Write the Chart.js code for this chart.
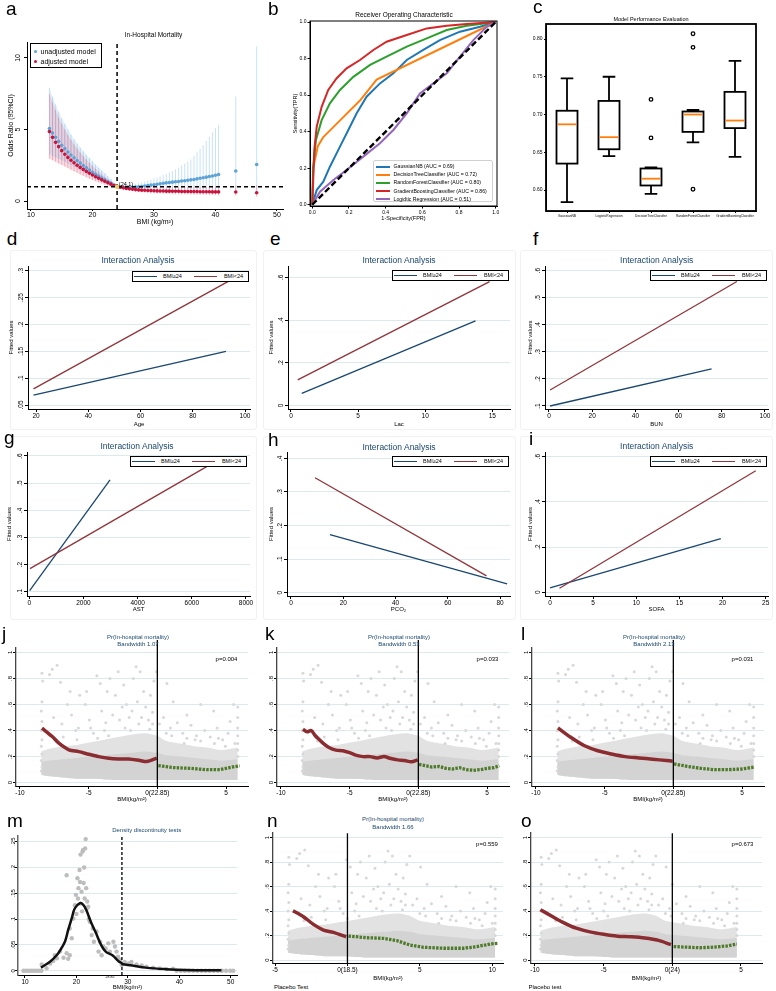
<!DOCTYPE html>
<html>
<head>
<meta charset="utf-8">
<title>BMI and in-hospital mortality</title>
<script src="https://cdn.jsdelivr.net/npm/chart.js@4.4.1/dist/chart.umd.min.js"></script>
<style>
  body { margin: 0; width: 776px; height: 991px; position: relative; overflow: hidden; background: #fff;
         font-family: Arial, "Liberation Sans", Helvetica, sans-serif; color: #000; }
  canvas { position: absolute; }
  .tx { position: absolute; white-space: nowrap; line-height: 1; transform: translate(-50%, -50%); }
  .let { position: absolute; font-size: 19px; line-height: 1; }
  .lg { position: absolute; box-sizing: border-box; border: 1px solid #000; background: #fff; display: flex;
        align-items: center; white-space: nowrap; line-height: 1; }
  .lg i, .rows i { display: inline-block; }
  .rows { position: absolute; box-sizing: border-box; border: 1px solid #d0d0d0; border-radius: 2px;
          background: rgba(255,255,255,0.85); line-height: 1; }
  .rows div { display: flex; align-items: center; white-space: nowrap; }
  .pane { position: absolute; box-sizing: border-box; border: 1px solid #f1f1f1; border-radius: 3px; }
</style>
</head>
<body>
<script>
const SANS = 'Arial, "Liberation Sans", Helvetica, sans-serif';
const NAVY = '#1a476f', MAROON = '#90353b';
const RD_RED = '#8b2c30', RD_GREEN = '#4e7b2a';
const GRID = '#dce9ed';

Chart.defaults.font.family = SANS;
Chart.defaults.color = '#000';
Chart.defaults.animation = false;
Chart.defaults.plugins.legend.display = false;
Chart.defaults.plugins.tooltip.enabled = false;

// ---- a: odds ratio by BMI ----
const aBmi = [13,13.5,14,14.5,15,15.5,16,16.5,17,17.5,18,18.5,19,19.5,20,20.5,21,21.5,22,22.5,23,23.5,24,
  24.5,25,25.5,26,26.5,27,27.5,28,28.5,29,29.5,30,30.5,31,31.5,32,32.5,33,33.5,34,34.5,35,35.5,36,36.5,
  37,37.5,38,38.5,39,39.5,40,40.5,43.3,46.7];
const aUnadj = [5.07,4.75,4.45,4.17,3.9,3.66,3.43,3.22,3.02,2.83,2.65,2.48,2.32,2.16,2.01,1.87,1.74,1.61,1.49,1.37,1.25,1.12,1.0,
  0.98,0.96,0.95,0.95,0.96,0.98,1.0,1.02,1.05,1.08,1.11,1.14,1.17,1.21,1.24,1.27,1.3,1.32,1.35,1.37,1.4,1.42,1.45,1.48,1.51,
  1.55,1.59,1.63,1.67,1.71,1.75,1.8,1.85,2.1,2.55];
const aUnadjLo = [3.25,3.15,3.05,2.95,2.85,2.74,2.63,2.52,2.41,2.3,2.19,2.08,1.97,1.86,1.75,1.64,1.53,1.42,1.32,1.22,1.13,1.06,1.0,
  0.93,0.87,0.82,0.79,0.77,0.76,0.76,0.76,0.76,0.77,0.77,0.78,0.78,0.79,0.79,0.8,0.8,0.8,0.81,0.81,0.81,0.81,0.81,0.81,0.81,
  0.81,0.8,0.8,0.8,0.79,0.79,0.78,0.78,0.72,0.68];
const aUnadjHi = [7.9,7.3,6.75,6.25,5.8,5.4,5.0,4.65,4.32,4.02,3.74,3.48,3.23,3.0,2.77,2.55,2.34,2.14,1.94,1.74,1.54,1.28,1.0,
  1.03,1.06,1.09,1.12,1.16,1.2,1.25,1.3,1.36,1.42,1.49,1.56,1.64,1.72,1.81,1.9,2.0,2.1,2.21,2.32,2.5,2.62,2.76,2.9,3.15,
  3.4,3.65,3.9,4.2,4.5,4.8,5.1,5.3,7.3,10.8];
const aAdj = [4.85,4.45,4.1,3.8,3.52,3.27,3.05,2.85,2.67,2.5,2.35,2.21,2.07,1.94,1.82,1.7,1.59,1.48,1.38,1.28,1.18,1.09,1.0,
  0.96,0.92,0.88,0.85,0.82,0.8,0.78,0.76,0.75,0.74,0.73,0.72,0.71,0.7,0.7,0.69,0.69,0.68,0.68,0.68,0.67,0.67,0.67,0.66,0.66,
  0.66,0.65,0.65,0.65,0.65,0.64,0.64,0.64,0.63,0.58];
const aAdjLo = [2.95,2.85,2.74,2.63,2.52,2.41,2.3,2.19,2.08,1.97,1.86,1.76,1.66,1.56,1.47,1.38,1.3,1.22,1.15,1.09,1.04,1.01,1.0,
  0.92,0.86,0.8,0.75,0.7,0.66,0.63,0.6,0.58,0.56,0.54,0.53,0.52,0.51,0.5,0.49,0.48,0.47,0.46,0.46,0.45,0.45,0.44,0.44,0.43,
  0.43,0.42,0.42,0.41,0.41,0.4,0.4,0.39,0.36,0.3];
const aAdjHi = [7.5,6.9,6.35,5.85,5.4,5.0,4.62,4.28,3.96,3.67,3.4,3.15,2.91,2.68,2.47,2.26,2.06,1.87,1.69,1.52,1.35,1.18,1.0,
  0.99,0.98,0.97,0.96,0.95,0.95,0.95,0.95,0.95,0.95,0.95,0.95,0.96,0.96,0.96,0.97,0.97,0.97,0.98,0.98,0.98,0.99,0.99,0.99,1.0,
  1.0,1.0,1.01,1.01,1.01,1.02,1.02,1.02,1.08,1.12];
const aKnot = [24, 1];

// ---- b: ROC curves ----
const rocTicks = [0, 0.2, 0.4, 0.6, 0.8, 1.0];
const rocTickLabs = ['0.0', '0.2', '0.4', '0.6', '0.8', '1.0'];
const gnbX = [0,0.024,0.06,0.096,0.142,0.187,0.242,0.296,0.369,0.442,0.515,0.605,0.696,0.805,0.915,1];
const gnbY = [0,0.08,0.126,0.208,0.3,0.39,0.5,0.591,0.664,0.719,0.792,0.847,0.901,0.947,0.974,1];
const dtX = [0,0.005,0.03,0.06,0.15,0.26,0.351,1];
const dtY = [0,0.2,0.32,0.37,0.46,0.57,0.685,1];
const rfX = [0,0.005,0.02,0.051,0.096,0.151,0.224,0.315,0.405,0.515,0.624,0.733,0.842,1];
const rfY = [0,0.208,0.354,0.463,0.555,0.628,0.7,0.765,0.81,0.865,0.91,0.956,0.98,1];
const gbX = [0,0.011,0.024,0.051,0.087,0.133,0.187,0.26,0.333,0.405,0.515,0.624,0.733,0.842,1];
const gbY = [0,0.3,0.427,0.536,0.628,0.692,0.746,0.792,0.847,0.892,0.929,0.965,0.98,0.989,1];
const lrX = [0,0.042,0.115,0.187,0.278,0.369,0.442,0.515,0.587,0.66,0.733,0.805,0.878,0.951,1];
const lrY = [0,0.071,0.135,0.19,0.263,0.336,0.409,0.5,0.609,0.664,0.719,0.81,0.901,0.974,1];
const rocNames = ['GaussianNB (AUC = 0.69)', 'DecisionTreeClassifier (AUC = 0.72)', 'RandomForestClassifier (AUC = 0.80)',
  'GradientBoostingClassifier (AUC = 0.86)', 'Logidtic Regression (AUC = 0.51)'];
const rocColors = ['#1f77b4', '#ff7f0e', '#2ca02c', '#d62728', '#9467bd'];

// ---- c: box plots ----
const cNames = ['GaussianNB', 'LogisticRegression', 'DecisionTreeClassifier', 'RandomForestClassifier', 'GradientBoostingClassifier'];
const cLo  = [0.584, 0.645, 0.595, 0.663, 0.644];
const cQ1  = [0.635, 0.654, 0.606, 0.677, 0.682];
const cMed = [0.687, 0.670, 0.615, 0.700, 0.692];
const cQ3  = [0.705, 0.718, 0.6285, 0.704, 0.730];
const cHi  = [0.748, 0.750, 0.630, 0.706, 0.771];
const cOutX = [2, 2, 3, 3, 3];
const cOutY = [0.72, 0.669, 0.807, 0.789, 0.601];

// ---- d-i: interaction fitted lines ----
const dBlueX = [19, 92.7],   dBlueY = [0.0685, 0.150];
const dRedX  = [19, 94.3],   dRedY  = [0.080, 0.282];
const eBlueX = [0.8, 13.75], eBlueY = [0.057, 0.396];
const eRedX  = [0.5, 14.8],  eRedY  = [0.12, 0.58];
const fBlueX = [0.5, 75.3],  fBlueY = [0.1, 0.237];
const fRedX  = [0.5, 87],    fRedY  = [0.159, 0.56];
const gBlueX = [13, 2980],   gBlueY = [0.104, 0.512];
const gRedX  = [25, 6550],   gRedY  = [0.185, 0.561];
const hBlueX = [14.9, 82.7], hBlueY = [0.173, 0.026];
const hRedX  = [9.2, 74.8],  hRedY  = [0.342, 0.050];
const iBlueX = [0, 19.8],    iBlueY = [0.02, 0.237];
const iRedX  = [1.1, 23.85], iRedY  = [0.018, 0.538];

// ---- j-o: regression discontinuity ----
const rdCloudX  = [14.4,15,16,17,18,19,20,21,22,22.85,23.5,24.5,25.5,26.5,27.5,28.7];
const rdCloudLo = [0.06,0.05,0.04,0.03,0.03,0.025,0.02,0.02,0.02,0.02,0.02,0.02,0.02,0.02,0.02,0.02];
const rdCloudHi = [0.24,0.26,0.28,0.29,0.31,0.33,0.35,0.37,0.38,0.36,0.32,0.3,0.28,0.27,0.25,0.27];
const rdCoreHi  = [0.16,0.17,0.18,0.19,0.2,0.21,0.22,0.23,0.24,0.23,0.21,0.2,0.19,0.18,0.17,0.18];
const rdDots = [
  [14.45,0.84],[14.5,0.78],[14.45,0.62],[14.4,0.55],[14.45,0.47],[14.4,0.4],[14.45,0.33],
  [15.0,0.83],[15.2,0.87],[15.55,0.9],[15.8,0.77],[16.5,0.7],[16.3,0.6],[17.2,0.67],[17.7,0.7],
  [17.6,0.6],[18.45,0.82],[18.7,0.76],[19.2,0.7],[19.4,0.8],[20.0,0.85],[19.8,0.67],[20.4,0.75],
  [20.6,0.6],[21.1,0.8],[21.3,0.89],[21.6,0.85],[21.85,0.7],[22.35,0.67],[22.6,0.78],[22.8,0.85],
  [23.55,0.76],[24.0,0.62],[25.0,0.52],[26.0,0.6],[26.95,0.55],[28.15,0.47],[28.4,0.6],[28.7,0.58],
  [28.7,0.5],[28.7,0.42],[28.7,0.36],
  [15.3,0.5],[15.9,0.45],[16.6,0.52],[17.1,0.42],[17.9,0.48],[18.2,0.38],[18.8,0.55],[19.1,0.46],
  [19.6,0.52],[20.1,0.48],[20.3,0.58],[20.8,0.5],[21.0,0.55],[21.4,0.62],[21.7,0.5],[22.0,0.58],
  [22.2,0.48],[22.5,0.54],[23.0,0.45],[23.3,0.5],[23.8,0.42],[24.3,0.46],[24.7,0.38],[25.3,0.44],
  [25.7,0.36],[26.3,0.4],[26.7,0.35],[27.2,0.42],[27.6,0.33],[28.0,0.38],[28.5,0.3],
  [16.0,0.35],[17.0,0.33],[19.0,0.4],[20.5,0.42],[21.5,0.45],[23.5,0.38],[25.0,0.34],[26.0,0.32],
  [27.0,0.3],[18.5,0.34],[15.5,0.32],[22.5,0.45],[24.8,0.3],[27.8,0.28],
  [14.4,0.28],[14.45,0.22],[14.4,0.17],[14.45,0.12],[14.4,0.09],[28.7,0.3],[28.7,0.25],[28.7,0.2],
  [16.9,0.4],[18.0,0.42],[19.3,0.36],[20.9,0.4],[22.3,0.41],[23.9,0.36],[25.6,0.33],[27.3,0.34]
];
const rdYTicks = [0, 0.2, 0.4, 0.6, 0.8, 1];
const rdYLabs = ['0', '.2', '.4', '.6', '.8', '1'];
const jRedX = [-8.4,-7.65,-7.17,-6.44,-5.72,-4.99,-4.27,-3.54,-2.82,-2.09,-1.26,-0.77,-0.05];
const jRedY = [0.418,0.354,0.303,0.252,0.238,0.218,0.2,0.187,0.182,0.182,0.17,0.162,0.188];
const jGrX = [0.07,1.16,2.37,3.58,4.55,5.27,5.99];
const jGrY = [0.131,0.116,0.11,0.10,0.10,0.116,0.13];
const kRedX = [-8.4,-8.1,-7.8,-7.5,-7.2,-6.9,-6.5,-6.0,-5.5,-5.0,-4.5,-4.0,-3.5,-3.0,-2.5,-2.0,-1.5,-1.0,-0.5,-0.05];
const kRedY = [0.41,0.39,0.4,0.36,0.33,0.3,0.27,0.25,0.245,0.23,0.21,0.2,0.2,0.19,0.2,0.185,0.175,0.17,0.16,0.175];
const kGrX = [0.05,0.5,1,1.5,2,2.5,3,3.5,4,4.5,5,5.5,5.9];
const kGrY = [0.14,0.13,0.12,0.125,0.11,0.105,0.115,0.1,0.095,0.1,0.11,0.115,0.13];
const lRedX = [-8.4,-7.5,-6.5,-5.5,-4.5,-3.5,-2.5,-1.5,-0.5,-0.05];
const lRedY = [0.42,0.35,0.285,0.245,0.22,0.2,0.19,0.18,0.17,0.165];
const lGrX = [0.05,1,2,3,4,5,5.9];
const lGrY = [0.145,0.125,0.11,0.1,0.1,0.105,0.12];
const nRedX = [-3.76,-3.04,-2.35,-1.66,-0.97,-0.09];
const nRedY = [0.403,0.354,0.291,0.245,0.226,0.19];
const nGrX = [0.07,1.34,2.49,3.41,4.33,5.25,6.63,8.01,8.94,9.86,10.4];
const nGrY = [0.196,0.182,0.177,0.158,0.122,0.104,0.096,0.096,0.109,0.131,0.136];
const oRedX = [-9.6,-8.8,-8,-7,-6,-5,-4,-3,-2,-1,-0.1];
const oRedY = [0.41,0.36,0.31,0.26,0.23,0.21,0.195,0.19,0.18,0.16,0.125];
const oGrX = [0.1,1,2,3,4,4.7];
const oGrY = [0.11,0.105,0.1,0.105,0.115,0.13];

// ---- m: density test ----
const mCurveX = [13.1,14.86,16.16,17.1,17.8,18.4,19.1,19.7,20.7,21.3,21.9,22.8,23.8,24.8,25.7,27.0,28.3,28.85];
const mCurveY = [0.006,0.0175,0.030,0.044,0.057,0.079,0.102,0.121,0.131,0.128,0.118,0.095,0.073,0.05,0.037,0.030,0.0175,0.015];
const mCurve2X = [28.85,29.0,30.9,33.5,37.4,41.3,48.2];
const mCurve2Y = [0.013,0.0125,0.010,0.006,0.003,0.0015,0.001];
const mDots = [
  [13.24,0.012],[14.2,0.005],[14.9,0.014],[15.5,0.019],[16.2,0.024],[15.8,0.03],[16.8,0.037],[17.5,0.025],
  [18.1,0.034],[18.4,0.023],[18.7,0.03],[18.1,0.185],[18.7,0.082],[19.1,0.063],[19.4,0.101],[19.7,0.127],
  [19.9,0.147],[20.2,0.179],[20.4,0.16],[20.6,0.195],[20.7,0.172],[20.8,0.225],[21.0,0.153],[21.2,0.231],
  [21.3,0.234],[21.5,0.2],[21.7,0.237],[21.8,0.255],[21.9,0.16],[22.1,0.134],[22.3,0.124],[22.6,0.095],
  [22.96,0.069],[23.2,0.082],[23.4,0.056],[23.9,0.076],[24.3,0.037],[24.6,0.056],[24.9,0.03],[25.2,0.047],
  [25.7,0.043],[26.2,0.053],[26.5,0.037],[27.2,0.056],[27.5,0.047],[27.8,0.037],[28.1,0.027],[28.5,0.021],
  [28.8,0.011],[29.4,0.017],[30.1,0.014],[30.7,0.017],[31.7,0.012],[32.7,0.01],[33.6,0.008],[34.9,0.006],
  [36.2,0.0045],[37.5,0.003],[38.8,0.004],[20.0,0.11],[20.3,0.14],[20.8,0.13],[21.1,0.115],[21.4,0.17],
  [21.6,0.14],[22.0,0.12],[22.4,0.1],
  [9.7,0],[10.2,0],[10.7,0],[11.2,0],[11.7,0],[12.2,0],[12.7,0],[13.2,0],[39.5,0],[40.3,0],[41.1,0],
  [41.9,0],[42.7,0],[43.5,0],[44.3,0],[45.1,0],[45.9,0],[46.7,0],[47.5,0],[48.3,0],[49.1,0],[49.9,0],[50.5,0]
];

// ---------- helpers ----------
const P = (xs, ys, shift = 0) => xs.map((x, i) => ({ x: x - shift, y: ys[i] }));
const PP = (arr, shift = 0) => arr.map(p => ({ x: p[0] - shift, y: p[1] }));

function line(data, color, width, dash, extra) {
  return Object.assign({ data, showLine: true, borderColor: color, borderWidth: width,
    borderDash: dash || [], pointRadius: 0, fill: false, tension: 0 }, extra || {});
}
function dots(data, color, r, extra) {
  return Object.assign({ data, showLine: false, pointBackgroundColor: color, pointBorderWidth: 0,
    pointRadius: r, pointHoverRadius: r }, extra || {});
}
function band(xs, lo, hi, color, shift = 0, tension = 0) {
  return [
    line(P(xs, hi, shift), 'rgba(0,0,0,0)', 0, null, { fill: '+1', backgroundColor: color, tension }),
    line(P(xs, lo, shift), 'rgba(0,0,0,0)', 0, null, { tension })
  ];
}

function xAxis(min, max, vals, labs, o = {}) {
  return {
    type: 'linear', min, max,
    afterBuildTicks: s => { s.ticks = vals.map(v => ({ value: v })); },
    ticks: { autoSkip: false, maxRotation: 0, minRotation: 0, padding: o.pad ?? 0.5,
             font: { size: o.size || 6.5 }, color: '#000', callback: (v, i) => labs[i] },
    grid: { drawOnChartArea: false, tickLength: o.tl ?? 3, tickColor: '#000', tickWidth: 1 },
    border: { color: o.axis || '#000', width: o.aw || 1 },
    title: { display: !!o.title, text: o.title || '', font: { size: o.tsize || 6 }, padding: 0, color: '#000' }
  };
}
function yAxis(min, max, vals, labs, o = {}) {
  return {
    type: 'linear', min, max,
    afterBuildTicks: s => { s.ticks = vals.map(v => ({ value: v })); },
    ticks: { display: !o.rot, autoSkip: false, padding: o.pad ?? 1, font: { size: o.size || 6.5 },
             color: '#000', callback: (v, i) => labs[i] },
    grid: { drawOnChartArea: !!o.grid, color: o.grid || 'rgba(0,0,0,0)', tickLength: o.tl ?? 3,
            tickColor: '#000', tickWidth: 1 },
    border: { color: o.axis || '#000', width: o.aw || 1 },
    title: { display: !!o.title, text: o.title || '', font: { size: o.tsize || 6 }, padding: 0, color: '#000' }
  };
}

// y tick labels written along the axis, as Stata and R do
function rotTicks(size, gap) {
  return { id: 'rotTicks', afterDraw(c) {
    const s = c.scales.y, ctx = c.ctx;
    ctx.save();
    ctx.font = size + 'px ' + SANS; ctx.fillStyle = '#000';
    ctx.textAlign = 'center'; ctx.textBaseline = 'middle';
    s.ticks.forEach(t => {
      ctx.save();
      ctx.translate(s.right - gap, s.getPixelForValue(t.value));
      ctx.rotate(-Math.PI / 2);
      ctx.fillText(t.label, 0, 0);
      ctx.restore();
    });
    ctx.restore();
  } };
}
function frame(width) {
  return { id: 'frame', afterDraw(c) {
    const { ctx, chartArea: a } = c;
    ctx.save(); ctx.strokeStyle = '#000'; ctx.lineWidth = width;
    ctx.strokeRect(a.left, a.top, a.right - a.left, a.bottom - a.top);
    ctx.restore();
  } };
}

function makeChart(box, area, datasets, scales, plugins) {
  const [bx, by, bw, bh] = box, [l, t, r, b] = area;
  scales.x.afterFit = s => { s.height = by + bh - b; s.paddingLeft = 0; s.paddingRight = 0; };
  scales.y.afterFit = s => { s.width = l - bx; s.paddingTop = 0; s.paddingBottom = 0; };
  const cv = document.createElement('canvas');
  cv.width = bw; cv.height = bh;
  cv.style.left = bx + 'px'; cv.style.top = by + 'px';
  cv.style.width = bw + 'px'; cv.style.height = bh + 'px';
  document.body.appendChild(cv);
  return new Chart(cv, {
    type: 'line',
    data: { datasets },
    options: {
      responsive: false, animation: false,
      layout: { padding: { left: 0, top: t - by, right: bx + bw - r, bottom: 0 } },
      scales
    },
    plugins: plugins || []
  });
}

function text(s, x, y, size, color, rot) {
  const d = document.createElement('div');
  d.className = 'tx';
  d.textContent = s;
  d.style.left = x + 'px'; d.style.top = y + 'px'; d.style.fontSize = size + 'px';
  if (color) d.style.color = color;
  if (rot) d.style.transform = `translate(-50%, -50%) rotate(${rot}deg)`;
  document.body.appendChild(d);
  return d;
}
function letter(ch, x, baseline) {
  const d = document.createElement('div');
  d.className = 'let'; d.textContent = ch;
  d.style.left = x + 'px'; d.style.top = (baseline - 16.1) + 'px';
  document.body.appendChild(d);
}
function pane(x, y, w, h) {
  const d = document.createElement('div');
  d.className = 'pane';
  d.style.cssText += `left:${x}px;top:${y}px;width:${w}px;height:${h}px;`;
  document.body.appendChild(d);
}
function stataLegend(x, y) {
  const d = document.createElement('div');
  d.className = 'lg';
  d.style.cssText += `left:${x}px;top:${y}px;width:117px;height:11px;font-size:5.5px;`;
  d.innerHTML = `<i style="width:23px;height:1.5px;background:${NAVY};margin:0 6px 0 1px"></i>BMI≥24` +
    `<i style="width:23px;height:1.5px;background:${MAROON};margin:0 7px 0 12px"></i>BMI&lt;24`;
  document.body.appendChild(d);
}

// faint Stata graph-region outlines, drawn first so everything sits on top
[[10, 250, 247, 180], [263, 250, 253, 180], [520, 250, 253, 180],
 [10, 436, 247, 184], [263, 436, 253, 184], [520, 436, 253, 184]].forEach(p => pane(...p));

// ---------- panel a ----------
const aYMin = -0.556, aYMax = 11.11, aXMin = 9.35, aXMax = 50.98;
const nLeft = 23;
function ciLines(sets) {
  return { id: 'ci', beforeDatasetsDraw(c) {
    const { ctx, scales: { x, y }, chartArea: a } = c;
    ctx.save();
    ctx.beginPath(); ctx.rect(a.left, a.top, a.right - a.left, a.bottom - a.top); ctx.clip();
    sets.forEach(s => {
      ctx.strokeStyle = s.color; ctx.lineWidth = s.width;
      s.xs.forEach((v, i) => {
        const px = x.getPixelForValue(v);
        ctx.beginPath();
        ctx.moveTo(px, y.getPixelForValue(s.lo[i]));
        ctx.lineTo(px, y.getPixelForValue(s.hi[i]));
        ctx.stroke();
      });
    });
    ctx.restore();
  } };
}
makeChart([7, 38, 279, 188], [27, 42, 283, 209], [
  dots([{ x: aKnot[0], y: aKnot[1] }], '#f0cf6a', 2.2),
  line([{ x: aKnot[0], y: aYMin }, { x: aKnot[0], y: aYMax }], '#000', 1.5, [4, 3]),
  line([{ x: aXMin, y: aKnot[1] }, { x: aXMax, y: aKnot[1] }], '#000', 1.5, [4, 3]),
  dots(P(aBmi, aAdj), '#c8143c', 1.8),
  dots(P(aBmi, aUnadj), '#5ea3d8', 1.8),
  ...band(aBmi.slice(0, nLeft), aAdjLo.slice(0, nLeft), aAdjHi.slice(0, nLeft), 'rgba(222,110,135,0.22)'),
  ...band(aBmi.slice(0, nLeft), aUnadjLo.slice(0, nLeft), aUnadjHi.slice(0, nLeft), 'rgba(140,195,235,0.25)')
], {
  x: xAxis(aXMin, aXMax, [10, 20, 30, 40, 50], ['10', '20', '30', '40', '50'],
           { size: 7, tl: 2, pad: 0, title: 'BMI (kg/m²)', tsize: 7 }),
  y: yAxis(aYMin, aYMax, [0, 5, 10], ['0', '5', '10'], { rot: true, tl: 3, title: 'Odds Ratio (95%CI)', tsize: 7 })
}, [rotTicks(7, 8.7), ciLines([
  { xs: aBmi, lo: aUnadjLo, hi: aUnadjHi, color: 'rgba(140,195,235,0.6)', width: 0.8 },
  { xs: aBmi, lo: aAdjLo, hi: aAdjHi, color: 'rgba(225,105,130,0.55)', width: 0.8 }
])]);
text('In-Hospital Mortality', 153.5, 34.5, 6.5);
text('(24,1)', 126, 184.5, 5.5);
(() => {
  const d = document.createElement('div');
  d.className = 'rows';
  d.style.cssText += 'left:30px;top:43px;width:72px;height:25px;border-color:#000;border-radius:0;font-size:7px;padding:3px 0 0 3px;';
  d.innerHTML = `<div style="height:9.5px"><i style="width:3px;height:3px;border-radius:50%;background:#5ea3d8;margin-right:3.5px"></i>unadjusted model</div>` +
    `<div style="height:9.5px"><i style="width:3px;height:3px;border-radius:50%;background:#c8143c;margin-right:3.5px"></i>adjusted model</div>`;
  document.body.appendChild(d);
})();

// ---------- panel b ----------
makeChart([292, 12, 208, 210], [310, 21, 497, 206], [
  line([{ x: 0, y: 0 }, { x: 1, y: 1 }], '#000', 2.4, [6, 3]),
  line(P(lrX, lrY), rocColors[4], 2),
  line(P(gbX, gbY), rocColors[3], 2),
  line(P(rfX, rfY), rocColors[2], 2),
  line(P(dtX, dtY), rocColors[1], 2),
  line(P(gnbX, gnbY), rocColors[0], 2)
], {
  x: xAxis(-0.0125, 1.007, rocTicks, rocTickLabs, { size: 5, tl: 2.5, pad: 1, title: '1-Specificity(FPR)', tsize: 5.5 }),
  y: yAxis(-0.0071, 1.0055, rocTicks, rocTickLabs, { size: 5, tl: 2.5, pad: 1, title: 'Sensitivity(TPR)', tsize: 5.5 })
}, [frame(1)]);
text('Receiver Operating Characteristic', 404, 15, 6.5);
(() => {
  const d = document.createElement('div');
  d.className = 'rows';
  d.style.cssText += 'left:373px;top:160px;width:120px;height:42px;font-size:5.2px;padding:1.5px 0 0 1.5px;';
  d.innerHTML = rocNames.map((n, i) =>
    `<div style="height:8.2px"><i style="width:14px;height:2px;background:${rocColors[i]};margin-right:4px"></i>${n}</div>`).join('');
  document.body.appendChild(d);
})();

// ---------- panel c ----------
const boxW = 0.5, capW = 0.3;
const boxPlot = { id: 'boxes', afterDatasetsDraw(c) {
  const { ctx, scales: { x, y } } = c;
  ctx.save();
  ctx.lineWidth = 1.8; ctx.strokeStyle = '#000';
  cQ1.forEach((q1, i) => {
    const xl = x.getPixelForValue(i - boxW / 2), xr = x.getPixelForValue(i + boxW / 2);
    const xc = x.getPixelForValue(i);
    const cl = x.getPixelForValue(i - capW / 2), cr = x.getPixelForValue(i + capW / 2);
    const yq1 = y.getPixelForValue(q1), yq3 = y.getPixelForValue(cQ3[i]);
    const ylo = y.getPixelForValue(cLo[i]), yhi = y.getPixelForValue(cHi[i]);
    ctx.strokeStyle = '#000';
    ctx.strokeRect(xl, yq3, xr - xl, yq1 - yq3);
    ctx.beginPath();
    ctx.moveTo(xc, yq1); ctx.lineTo(xc, ylo); ctx.moveTo(cl, ylo); ctx.lineTo(cr, ylo);
    ctx.moveTo(xc, yq3); ctx.lineTo(xc, yhi); ctx.moveTo(cl, yhi); ctx.lineTo(cr, yhi);
    ctx.stroke();
    ctx.strokeStyle = '#ff7f0e';
    ctx.beginPath();
    const ym = y.getPixelForValue(cMed[i]);
    ctx.moveTo(xl + 1, ym); ctx.lineTo(xr - 1, ym);
    ctx.stroke();
  });
  ctx.restore();
} };
makeChart([520, 18, 244, 206], [546, 24, 756, 211], [
  dots(P(cOutX, cOutY), '#fff', 1.8, { pointBorderColor: '#000', pointBorderWidth: 1.3 })
], {
  x: xAxis(-0.5, 4.5, [0, 1, 2, 3, 4], cNames, { size: 3.2, tl: 2, pad: 1.5 }),
  y: yAxis(0.5722, 0.8199, [0.6, 0.65, 0.7, 0.75, 0.8], ['0.60', '0.65', '0.70', '0.75', '0.80'], { size: 5, tl: 2, pad: 1.5 })
}, [boxPlot, frame(1.8)]);
text('Model Performance Evaluation', 651, 20, 5.5);

// ---------- panels d-i ----------
function stataPanel(box, area, xr, yr, xt, xl, yt, yl, xTitle, blue, red) {
  makeChart(box, area, [line(red, MAROON, 1.3), line(blue, NAVY, 1.3)], {
    x: xAxis(xr[0], xr[1], xt, xl, { title: xTitle }),
    y: yAxis(yr[0], yr[1], yt, yl, { rot: true, grid: GRID, title: 'Fitted values' })
  }, [rotTicks(6.5, 7)]);
}
stataPanel([8, 261, 252, 167], [28, 266, 250, 409], [16.9, 101.9], [0.0426, 0.3087],
  [20, 40, 60, 80, 100], ['20', '40', '60', '80', '100'],
  [0.05, 0.1, 0.15, 0.2, 0.25, 0.3], ['.05', '.1', '.15', '.2', '.25', '.3'], 'Age',
  P(dBlueX, dBlueY), P(dRedX, dRedY));
stataPanel([268, 261, 250, 167], [288, 266, 510, 409], [-0.2235, 16.32], [-0.0164, 0.6529],
  [0, 5, 10, 15], ['0', '5', '10', '15'], [0, 0.2, 0.4, 0.6], ['0', '.2', '.4', '.6'], 'Lac',
  P(eBlueX, eBlueY), P(eRedX, eRedY));
stataPanel([527, 261, 247, 167], [545, 266, 768, 409], [-1.85, 101.4], [0.0889, 0.6174],
  [0, 20, 40, 60, 80, 100], ['0', '20', '40', '60', '80', '100'],
  [0.1, 0.2, 0.3, 0.4, 0.5, 0.6], ['.1', '.2', '.3', '.4', '.5', '.6'], 'BUN',
  P(fBlueX, fBlueY), P(fRedX, fRedY));
stataPanel([6, 447, 254, 166], [27, 452, 250, 596], [-85, 8148], [0.0842, 0.6147],
  [0, 2000, 4000, 6000, 8000], ['0', '2000', '4000', '6000', '8000'],
  [0.1, 0.2, 0.3, 0.4, 0.5, 0.6], ['.1', '.2', '.3', '.4', '.5', '.6'], 'AST',
  P(gBlueX, gBlueY), P(gRedX, gRedY));
stataPanel([268, 447, 250, 166], [287, 452, 510, 596], [-1.53, 83.8], [-0.0098, 0.4188],
  [0, 20, 40, 60, 80], ['0', '20', '40', '60', '80'], [0, 0.1, 0.2, 0.3, 0.4], ['0', '.1', '.2', '.3', '.4'], 'PCO₂',
  P(hBlueX, hBlueY), P(hRedX, hRedY));
stataPanel([527, 447, 247, 166], [545, 452, 768, 596], [-0.58, 25.27], [-0.0164, 0.6208],
  [0, 5, 10, 15, 20, 25], ['0', '5', '10', '15', '20', '25'], [0, 0.2, 0.4, 0.6], ['0', '.2', '.4', '.6'], 'SOFA',
  P(iBlueX, iBlueY), P(iRedX, iRedY));
[[138, 260], [399, 260], [656.7, 260], [137, 446], [399, 446.7], [656.7, 446]].forEach(p =>
  text('Interaction Analysis', p[0], p[1], 8.5, NAVY));
[[132, 271], [392, 270], [650, 270], [130, 456], [392, 456], [650, 456]].forEach(p => stataLegend(p[0], p[1]));

// ---------- panels j-o ----------
function rdPanel(box, area, xr, yr, cut, lineTop, xt, xl, redX, redY, grX, grY) {
  makeChart(box, area, [
    line([{ x: 0, y: yr[0] }, { x: 0, y: lineTop }], '#000', 1.3, null, { clip: false }),
    line(P(grX, grY), RD_GREEN, 3.3, [2.5, 1.2]),
    line(P(redX, redY), RD_RED, 3.5, null, { tension: 0.3 }),
    dots(PP(rdDots, cut), '#d8d8d8', 1.5),
    ...band(rdCloudX, rdCloudLo, rdCoreHi, '#d3d3d3', cut, 0.2),
    ...band(rdCloudX, rdCloudLo, rdCloudHi, '#e2e2e2', cut, 0.2)
  ], {
    x: xAxis(xr[0], xr[1], xt, xl, { title: 'BMI(kg/m²)' }),
    y: yAxis(yr[0], yr[1], rdYTicks, rdYLabs, { rot: true, grid: GRID, axis: '#444', aw: 1.3 })
  }, [rotTicks(6, 6)]);
}
const jklX = [-10, -5, 0, 5];
rdPanel([0, 636, 258, 167], [16, 648, 248, 786], [-10.29, 6.6], [-0.0253, 1.033], 22.85, 1.094,
  jklX, ['-10', '-5', '0(22.85)', '5'], jRedX, jRedY, jGrX, jGrY);
rdPanel([261, 636, 258, 167], [277, 648, 509, 786], [-10.29, 6.6], [-0.0253, 1.033], 22.85, 1.094,
  jklX, ['-10', '-5', '0(22.85)', '5'], kRedX, kRedY, kGrX, kGrY);
rdPanel([516, 636, 258, 167], [532, 648, 764, 786], [-10.29, 6.6], [-0.0253, 1.033], 22.85, 1.094,
  jklX, ['-10', '-5', '0(22.85)', '5'], lRedX, lRedY, lGrX, lGrY);
rdPanel([262, 828, 250, 154], [273, 833, 503, 963], [-5.14, 10.74], [-0.0245, 1.038], 18.5, 1.036,
  [-5, 0, 5, 10], ['-5', '0(18.5)', '5', '10'], nRedX, nRedY, nGrX, nGrY);
rdPanel([516, 828, 256, 154], [531, 833, 762, 963], [-10.29, 6.53], [-0.0245, 1.038], 24, 1.036,
  jklX, ['-10', '-5', '0(24)', '5'], oRedX, oRedY, oGrX, oGrY);
[[138, 'Bandwidth 1.07'], [399, 'Bandwidth 0.53'], [654, 'Bandwidth 2.13']].forEach(p => {
  text('Pr(In-hospital mortality)', p[0], 637.3, 6, NAVY);
  text(p[1], p[0], 644.3, 6, NAVY);
});
text('Pr(In-hospital mortality)', 393, 819, 6, NAVY);
text('Bandwidth 1.66', 393, 827, 6, NAVY);
[[226.5, 659, 'p=0.004'], [487.5, 659, 'p=0.033'], [742.5, 659, 'p=0.031'],
 [487, 844, 'p=0.559'], [742.5, 844, 'p=0.673']].forEach(p => text(p[2], p[0], p[1], 6));
text('Placebo Test', 291, 986.7, 6);
text('Placebo test', 545, 986.7, 6);

// m: density discontinuity
const mYMin = -0.0083, mCut = 28.85;
makeChart([0, 830, 250, 161], [18, 836, 237, 975], [
  dots([{ x: mCut, y: -0.0238 }], '#e0162b', 1.8, { clip: false, pointStyle: 'rect' }),
  line([{ x: mCut, y: mYMin }, { x: mCut, y: 0.26 }], '#000', 1.3, [3, 2]),
  line(P(mCurveX, mCurveY), '#111', 2.5, null, { tension: 0.4 }),
  line(P(mCurve2X, mCurve2Y), '#111', 2.5, null, { tension: 0.4 }),
  dots(PP(mDots), '#bdbdbd', 2.2)
], {
  x: xAxis(8.64, 51.23, [10, 20, 30, 40, 50], ['10', '20', '30', '40', '50'], { title: 'BMI(kg/m²)' }),
  y: yAxis(mYMin, 0.261, [0, 0.05, 0.1, 0.15, 0.2, 0.25], ['0', '.05', '.1', '.15', '.2', '.25'],
           { rot: true, grid: GRID, axis: '#666', aw: 1.5 })
}, [rotTicks(6, 5)]);
text('Density discontinuity tests', 146.7, 830, 6, NAVY);
text('28.85', 110, 978, 3.5);

// panel letters
[['a', 6, 15], ['b', 268, 15], ['c', 533, 13.5], ['d', 6.7, 245], ['e', 270, 245], ['f', 533, 245],
 ['g', 4, 444], ['h', 268, 445.7], ['i', 529, 445], ['j', 2, 640], ['k', 265, 640], ['l', 521, 640],
 ['m', 7, 826.7], ['n', 267, 826.7], ['o', 521, 826.7]].forEach(p => letter(p[0], p[1], p[2]));
</script>
</body>
</html>
